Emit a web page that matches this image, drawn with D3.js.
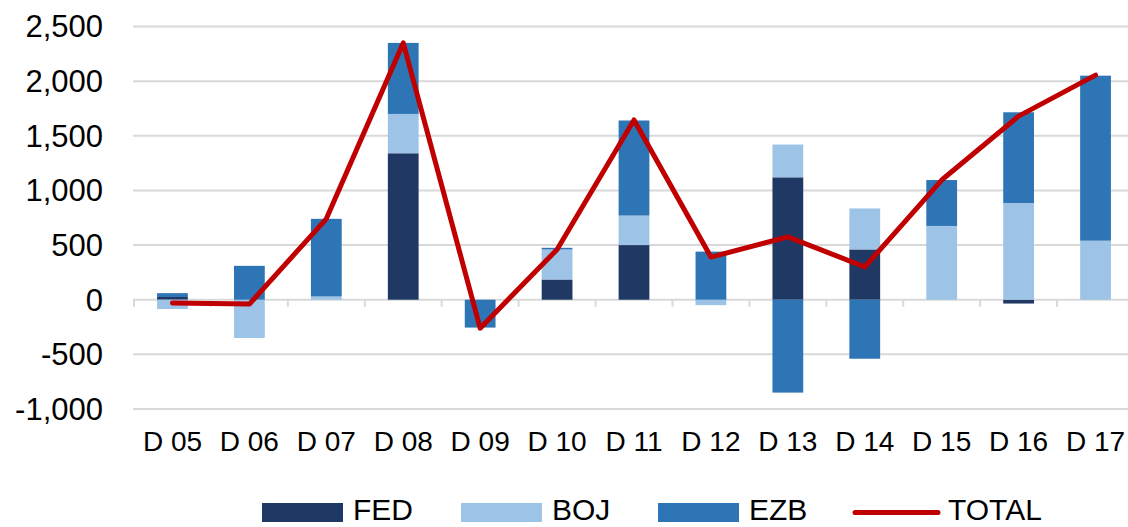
<!DOCTYPE html>
<html>
<head>
<meta charset="utf-8">
<script src="https://cdn.jsdelivr.net/npm/d3@7"></script>
<style>
  body { margin: 0; background: #fff; }
  text { font-family: "Liberation Sans", Arial, sans-serif; fill: #000; }
</style>
</head>
<body>
<div id="chart"></div>
<script>
let categories = ["D 05", "D 06", "D 07", "D 08", "D 09", "D 10", "D 11", "D 12", "D 13", "D 14", "D 15", "D 16", "D 17"];
let fed   = [25, 0, 0, 1340, 0, 185, 500, 0, 1120, 460, 0, -35, 0];
let boj   = [-85, -350, 30, 360, 0, 275, 270, -50, 300, 375, 675, 885, 540];
let ezb   = [35, 310, 710, 650, -255, 15, 870, 440, -850, -540, 420, 830, 1510];
let total = [-30, -40, 740, 2350, -260, 460, 1645, 390, 575, 300, 1095, 1680, 2055];
let yTicks = [-1000, -500, 0, 500, 1000, 1500, 2000, 2500];

let keys = ["FED", "BOJ", "EZB"];
let colors = {FED: "#203864", BOJ: "#9dc3e6", EZB: "#2e75b6", TOTAL: "#c00000"};

let rows = categories.map((c, i) => ({cat: c, FED: fed[i], BOJ: boj[i], EZB: ezb[i], TOTAL: total[i]}));

let width = 1128, height = 527;

let svg = d3.select("#chart")
    .append("svg")
        .attr("width", width)
        .attr("height", height);

let x = d3.scaleBand()
    .domain(categories)
    .range([134, 1134])
    .padding(0);

let y = d3.scaleLinear()
    .domain([-1000, 2500])
    .range([409, 26.5]);

// gridlines
svg.append("g")
    .selectAll("line")
    .data(yTicks)
    .join("line")
        .attr("x1", 133)
        .attr("x2", width)
        .attr("y1", d => y(d))
        .attr("y2", d => y(d))
        .attr("stroke", "#d9d9d9")
        .attr("stroke-width", 2);

// y labels
svg.append("g")
    .selectAll("text")
    .data(yTicks)
    .join("text")
        .attr("x", 103)
        .attr("y", d => y(d))
        .attr("dy", "0.35em")
        .attr("text-anchor", "end")
        .attr("font-size", 31)
        .text(d => d3.format(",")(d).replace("−", "-"));

// category ticks on the zero line
svg.append("g")
    .selectAll("line")
    .data(categories.concat([null]))
    .join("line")
        .attr("x1", (d, i) => x.range()[0] + i * x.step())
        .attr("x2", (d, i) => x.range()[0] + i * x.step())
        .attr("y1", y(0))
        .attr("y2", y(0) + 7)
        .attr("stroke", "#d9d9d9")
        .attr("stroke-width", 2);

// stacked bars
let series = d3.stack()
    .keys(keys)
    .offset(d3.stackOffsetDiverging)(rows);

let barW = x.bandwidth() * 0.4;

svg.append("g")
    .selectAll("g")
    .data(series)
    .join("g")
        .attr("fill", d => colors[d.key])
    .selectAll("rect")
    .data(d => d)
    .join("rect")
        .attr("x", d => x(d.data.cat) + (x.bandwidth() - barW) / 2)
        .attr("y", d => y(Math.max(d[0], d[1])))
        .attr("width", barW)
        .attr("height", d => Math.abs(y(d[0]) - y(d[1])));

// total line
let line = d3.line()
    .x(d => x(d.cat) + x.bandwidth() / 2)
    .y(d => y(d.TOTAL));

svg.append("path")
    .datum(rows)
    .attr("d", line)
    .attr("fill", "none")
    .attr("stroke", colors.TOTAL)
    .attr("stroke-width", 5)
    .attr("stroke-linejoin", "round")
    .attr("stroke-linecap", "round");

// x labels
svg.append("g")
    .selectAll("text")
    .data(categories)
    .join("text")
        .attr("x", d => x(d) + x.bandwidth() / 2)
        .attr("y", 451)
        .attr("text-anchor", "middle")
        .attr("font-size", 28)
        .text(d => d);

// legend
let legend = [
    {key: "FED", x: 262},
    {key: "BOJ", x: 461},
    {key: "EZB", x: 658},
    {key: "TOTAL", x: 853}
];

let lg = svg.append("g")
    .selectAll("g")
    .data(legend)
    .join("g")
        .attr("transform", d => `translate(${d.x},0)`);

lg.filter(d => d.key !== "TOTAL")
    .append("rect")
        .attr("x", 0)
        .attr("y", 503)
        .attr("width", 81)
        .attr("height", 19)
        .attr("fill", d => colors[d.key]);

lg.filter(d => d.key === "TOTAL")
    .append("line")
        .attr("x1", 2)
        .attr("x2", 85)
        .attr("y1", 512.5)
        .attr("y2", 512.5)
        .attr("stroke", colors.TOTAL)
        .attr("stroke-width", 5)
        .attr("stroke-linecap", "round");

lg.append("text")
    .attr("x", d => d.key === "TOTAL" ? 95 : 91)
    .attr("y", 520)
    .attr("font-size", 30)
    .text(d => d.key);
</script>
</body>
</html>
